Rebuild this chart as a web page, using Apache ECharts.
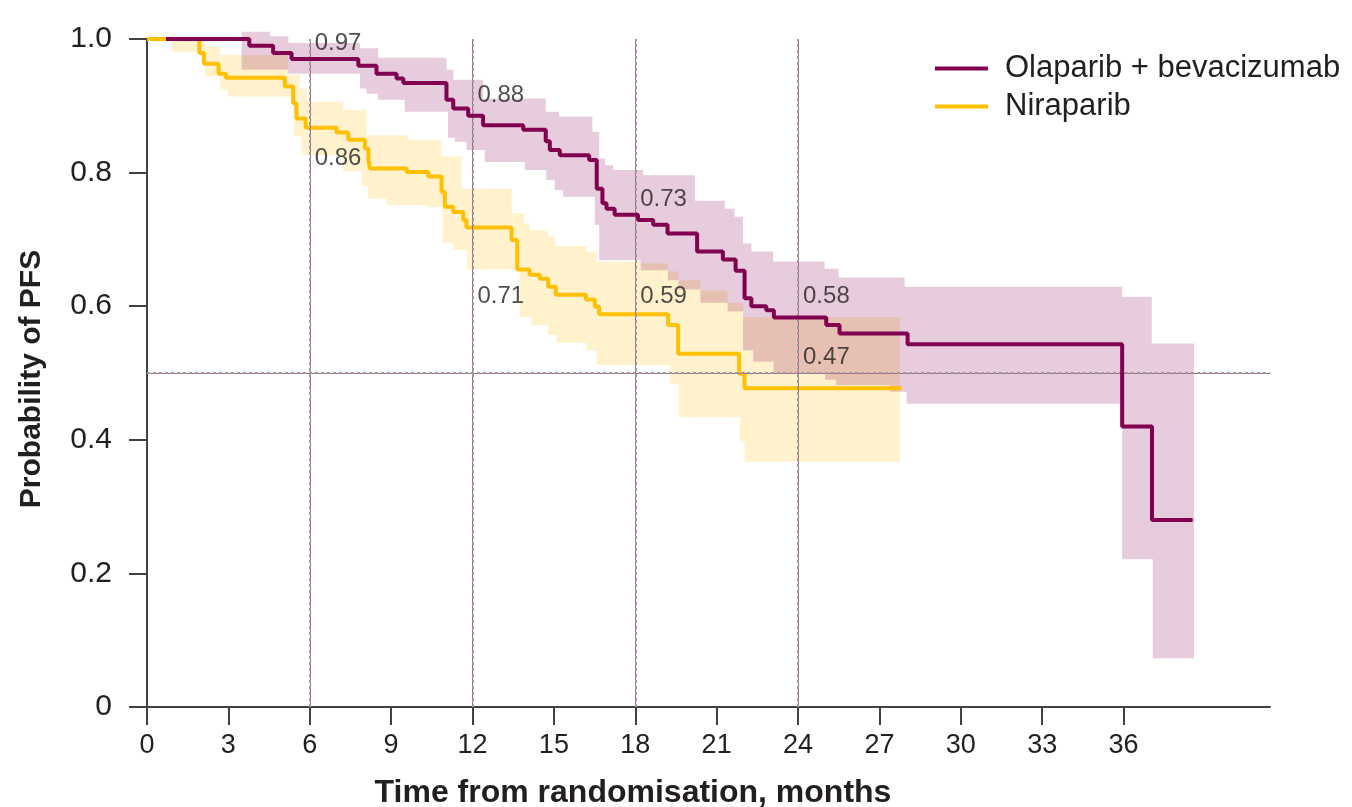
<!DOCTYPE html>
<html>
<head>
<meta charset="utf-8">
<script src="https://cdn.jsdelivr.net/npm/echarts@6/dist/echarts.min.js"></script>
<style>
  html, body { margin: 0; padding: 0; background: #ffffff; }
  #chart { width: 1352px; height: 807px; }
</style>
</head>
<body>
<div id="chart"></div>
<script>
// ---------------- data ----------------
const seriesNames = ['Olaparib + bevacizumab', 'Niraparib'];

const olapTime = [0.7, 3.77, 4.65, 5.33, 7.79, 8.46, 9.20, 9.45, 11.04, 11.29, 11.84, 12.39, 13.87, 14.70, 14.85, 15.22, 16.30, 16.58, 16.79, 16.94, 17.24, 18.10, 18.66, 19.19, 20.28, 21.23, 21.70, 22.03, 22.28, 22.83, 23.11, 25.04, 25.53, 28.04, 35.95, 37.05, 38.55];
const olapSurv = [1.0, 0.990, 0.979, 0.970, 0.960, 0.948, 0.941, 0.934, 0.909, 0.896, 0.885, 0.871, 0.864, 0.847, 0.834, 0.826, 0.819, 0.776, 0.754, 0.746, 0.737, 0.729, 0.722, 0.709, 0.682, 0.670, 0.653, 0.612, 0.600, 0.594, 0.583, 0.572, 0.559, 0.543, 0.420, 0.280, 0.280];

const niraTime = [0, 1.93, 2.10, 2.64, 2.91, 5.08, 5.39, 5.51, 5.85, 6.99, 7.42, 8.03, 8.16, 8.22, 9.57, 10.37, 10.86, 10.98, 11.29, 11.66, 11.78, 13.44, 13.65, 14.10, 14.48, 14.79, 15.07, 16.18, 16.51, 16.67, 19.21, 19.58, 21.83, 22.03, 27.81];
const niraSurv = [1.0, 0.979, 0.963, 0.948, 0.942, 0.929, 0.904, 0.881, 0.867, 0.860, 0.849, 0.836, 0.820, 0.806, 0.801, 0.794, 0.771, 0.749, 0.741, 0.729, 0.718, 0.699, 0.655, 0.647, 0.641, 0.629, 0.617, 0.610, 0.599, 0.588, 0.572, 0.529, 0.499, 0.477, 0.477];

// 95% CI bands (step values)
const olapBandTime  = [3.49, 4.53, 5.21, 7.85, 8.09, 8.52, 9.50, 11.04, 11.10, 11.29, 11.35, 11.78, 12.39, 12.45, 13.93, 14.70, 14.72, 15.03, 15.19, 15.34, 16.42, 16.51, 16.67, 16.88, 17.18, 18.20, 18.29, 19.20, 19.60, 20.20, 20.40, 21.30, 21.40, 21.66, 21.97, 22.28, 22.35, 23.08, 23.10, 24.98, 25.00, 25.40, 25.50, 27.40, 27.93, 28.00, 35.95, 37.04, 37.08, 38.60];
const olapBandLower = [0.954, 0.954, 0.948, 0.926, 0.918, 0.909, 0.891, 0.891, 0.852, 0.852, 0.846, 0.834, 0.834, 0.816, 0.804, 0.804, 0.789, 0.774, 0.774, 0.764, 0.764, 0.722, 0.669, 0.669, 0.669, 0.654, 0.654, 0.639, 0.625, 0.625, 0.605, 0.605, 0.592, 0.592, 0.534, 0.534, 0.517, 0.517, 0.499, 0.499, 0.490, 0.482, 0.482, 0.472, 0.472, 0.454, 0.221, 0.221, 0.073, 0.073];
const olapBandUpper = [1.011, 1.004, 0.994, 0.986, 0.986, 0.972, 0.972, 0.954, 0.954, 0.939, 0.939, 0.939, 0.911, 0.911, 0.911, 0.891, 0.891, 0.891, 0.884, 0.884, 0.861, 0.861, 0.821, 0.811, 0.804, 0.804, 0.796, 0.796, 0.796, 0.758, 0.758, 0.746, 0.746, 0.734, 0.694, 0.682, 0.682, 0.667, 0.667, 0.656, 0.656, 0.656, 0.643, 0.643, 0.629, 0.629, 0.614, 0.544, 0.544, 0.544];

const niraBandTime  = [0.91, 2.14, 2.69, 2.98, 5.20, 5.40, 5.63, 5.70, 5.90, 7.23, 7.91, 8.09, 8.15, 8.83, 9.63, 10.37, 10.86, 10.90, 11.30, 11.60, 11.80, 13.44, 13.74, 13.90, 14.10, 14.17, 14.79, 15.05, 15.10, 16.20, 16.57, 18.20, 19.20, 19.27, 19.60, 20.40, 21.40, 21.85, 21.97, 22.03, 27.75];
const niraBandLower = [0.980, 0.944, 0.924, 0.914, 0.914, 0.854, 0.854, 0.826, 0.826, 0.802, 0.780, 0.780, 0.761, 0.751, 0.751, 0.748, 0.748, 0.695, 0.684, 0.684, 0.655, 0.655, 0.584, 0.584, 0.584, 0.572, 0.557, 0.557, 0.545, 0.534, 0.512, 0.512, 0.512, 0.484, 0.434, 0.434, 0.434, 0.397, 0.397, 0.367, 0.367];
const niraBandUpper = [1.000, 0.989, 0.976, 0.976, 0.946, 0.946, 0.926, 0.926, 0.906, 0.894, 0.894, 0.856, 0.856, 0.856, 0.849, 0.849, 0.824, 0.824, 0.824, 0.776, 0.776, 0.739, 0.739, 0.724, 0.714, 0.714, 0.704, 0.690, 0.690, 0.682, 0.667, 0.664, 0.652, 0.652, 0.639, 0.624, 0.605, 0.605, 0.584, 0.584, 0.584];

const landmarkMonths = [6, 12, 18, 24];
const olapLandmarkText = ['0.97', '0.88', '0.73', '0.58'];
const niraLandmarkText = ['0.86', '0.71', '0.59', '0.47'];
const medianLine = 0.5;

const xTickValues = [0, 3, 6, 9, 12, 15, 18, 21, 24, 27, 30, 33, 36];
const yTickValues = [0, 0.2, 0.4, 0.6, 0.8, 1.0];
const xAxisTitle = 'Time from randomisation, months';
const yAxisTitle = 'Probability of PFS';

// ---------------- layout / style ----------------
const C_OLAP = '#820050';
const C_NIRA = '#FFC000';
const C_TEXT = '#231f20';
const C_AXIS = '#3d4246';
const FONT = "'Liberation Sans', Arial, Helvetica, sans-serif";
// vertical placement (in y units) of the landmark labels
const olapLabelY = [0.994, 0.915, 0.760, 0.614];
const niraLabelY = [0.821, 0.615, 0.614, 0.524];

function pairs(xs, ys) { return xs.map((x, i) => [x, ys[i]]); }

// step-shaped confidence band drawn as one polygon through the axes' scales
function bandSeries(xs, lo, hi, color, z) {
  return {
    type: 'custom', silent: true, z: z, clip: false,
    encode: { x: 0, y: [1, 2] },
    data: xs.map((x, i) => [x, lo[i], hi[i]]),
    renderItem: function (params, api) {
      if (params.dataIndex !== 0) return null;
      const pts = [];
      const n = xs.length;
      for (let i = 0; i < n - 1; i++) {
        pts.push(api.coord([xs[i], hi[i]]));
        pts.push(api.coord([xs[i + 1], hi[i]]));
      }
      for (let i = n - 2; i >= 0; i--) {
        pts.push(api.coord([xs[i + 1], lo[i]]));
        pts.push(api.coord([xs[i], lo[i]]));
      }
      return { type: 'polygon', shape: { points: pts }, style: { fill: color } };
    }
  };
}

const refLineData = landmarkMonths.map(m => ({ xAxis: m })).concat([{ yAxis: medianLine }]);

const labelPoints = landmarkMonths.map((m, i) => ({ value: [m, olapLabelY[i]], label: { formatter: olapLandmarkText[i] } }))
  .concat(landmarkMonths.map((m, i) => ({ value: [m, niraLabelY[i]], label: { formatter: niraLandmarkText[i] } })));

const chart = echarts.init(document.getElementById('chart'), null, { renderer: 'canvas' });

const option = {
  animation: false,
  backgroundColor: '#ffffff',
  grid: { left: 147, right: 82, top: 39, bottom: 100, containLabel: false },
  xAxis: {
    type: 'value', min: 0, max: 41.4, interval: 3,
    axisLine: { show: true, onZero: false, lineStyle: { color: C_AXIS, width: 2 } },
    axisTick: { show: true, length: 18, lineStyle: { color: C_AXIS, width: 2 }, customValues: xTickValues },
    axisLabel: { color: C_TEXT, fontSize: 27, fontFamily: FONT, margin: 25, customValues: xTickValues },
    splitLine: { show: false }
  },
  yAxis: {
    type: 'value', min: 0, max: 1, interval: 0.2,
    axisLine: { show: true, onZero: false, lineStyle: { color: C_AXIS, width: 2 } },
    axisTick: { show: true, length: 18, lineStyle: { color: C_AXIS, width: 2 } },
    axisLabel: {
      color: C_TEXT, fontSize: 30, fontFamily: FONT, margin: 35,
      formatter: v => (v === 0 ? '0' : v.toFixed(1))
    },
    splitLine: { show: false }
  },
  legend: {
    orient: 'vertical', left: 930, top: 48, itemGap: 7,
    itemWidth: 53, itemHeight: 4, icon: 'rect',
    data: seriesNames,
    textStyle: { color: C_TEXT, fontSize: 31, fontFamily: FONT, padding: [0, 0, 0, 12] }
  },
  graphic: [
    { type: 'text', x: 633, y: 793, silent: true,
      style: { text: xAxisTitle, font: 'bold 32px ' + FONT, fill: C_TEXT, align: 'center', verticalAlign: 'middle', textAlign: 'center', textVerticalAlign: 'middle' } },
    { type: 'text', x: 32, y: 379, rotation: Math.PI / 2, silent: true,
      style: { text: yAxisTitle, font: 'bold 30px ' + FONT, fill: C_TEXT, align: 'center', verticalAlign: 'middle', textAlign: 'center', textVerticalAlign: 'middle' } }
  ],
  series: [
    bandSeries(niraBandTime, niraBandLower, niraBandUpper, 'rgba(255,192,0,0.2)', 1),
    bandSeries(olapBandTime, olapBandLower, olapBandUpper, 'rgba(130,0,80,0.2)', 1),
    {
      type: 'line', data: [], silent: true, z: 2,
      markLine: {
        silent: true, symbol: 'none', label: { show: false },
        lineStyle: { color: '#b0608a', type: 'solid', width: 1 },
        data: refLineData
      }
    },
    {
      type: 'line', data: [], silent: true, z: 3,
      markLine: {
        silent: true, symbol: 'none', label: { show: false },
        lineStyle: { color: '#9a9a9a', type: [3, 3], width: 2 },
        data: refLineData
      }
    },
    {
      name: seriesNames[0], type: 'line', step: 'end', symbol: 'none', z: 5,
      color: C_OLAP, lineStyle: { color: C_OLAP, width: 4 },
      data: pairs(olapTime, olapSurv)
    },
    {
      name: seriesNames[1], type: 'line', step: 'end', symbol: 'none', z: 4,
      color: C_NIRA, lineStyle: { color: C_NIRA, width: 4 },
      data: pairs(niraTime, niraSurv)
    },
    {
      type: 'scatter', symbolSize: 0, silent: true, z: 6,
      label: { show: true, position: 'right', distance: 5, color: C_TEXT, fontSize: 24, fontFamily: FONT },
      data: labelPoints
    }
  ]
};

chart.setOption(option);
</script>
</body>
</html>
